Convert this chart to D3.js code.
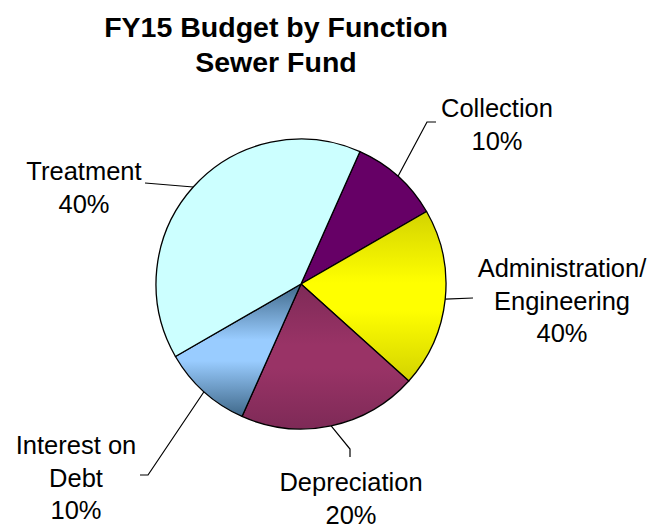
<!DOCTYPE html>
<html>
<head>
<meta charset="utf-8">
<script src="https://cdn.jsdelivr.net/npm/d3@7"></script>
<style>
  html, body { margin: 0; padding: 0; background: #fff; }
  svg { display: block; font-family: "Liberation Sans", Arial, sans-serif; }
</style>
</head>
<body>
<svg id="chart" width="649" height="527"></svg>
<script>
// Sewer fund budget split by function (slice shares, percent of total)
const categories = ["Collection", "Administration/Engineering", "Depreciation", "Interest on Debt", "Treatment"];
const shares = [10, 20, 20, 10, 40];
// Label text as printed beside each slice
const labelLines = [["Collection"], ["Administration/", "Engineering"], ["Depreciation"], ["Interest on", "Debt"], ["Treatment"]];
const labelPercents = ["10%", "40%", "20%", "10%", "40%"];
const titleLines = ["FY15 Budget by Function", "Sewer Fund"];

// Slice fills: [edge tone, centre tone] for a vertical centre-out gradient
const fills = [
  ["#660066", "#660066"],
  ["#d3d300", "#ffff00"],
  ["#7e2a57", "#993366"],
  ["#3f6889", "#99ccff"],
  ["#ccffff", "#ccffff"]
];

// Label placement: text centre x, first baseline y, and leader elbow points
const labelLayout = [
  { x: 497, y: 117, leader: [[427, 122], [436, 122]] },
  { x: 562, y: 277, leader: [[473, 298]] },
  { x: 351, y: 491, leader: [[350, 449], [350, 457]] },
  { x: 76,  y: 454, leader: [[148, 475], [140, 475]] },
  { x: 84,  y: 180, leader: [[145, 183]] }
];

const svg = d3.select("#chart");
const cx = 301, cy = 284, radius = 145;
const lineGap = 32.5;
const deg = Math.PI / 180;

const defs = svg.append("defs");
fills.forEach((f, i) => {
  const g = defs.append("linearGradient")
    .attr("id", "fill" + i)
    .attr("x1", 0).attr("y1", 0).attr("x2", 0).attr("y2", 1);
  g.append("stop").attr("offset", "0%").attr("stop-color", f[0]);
  g.append("stop").attr("offset", "42%").attr("stop-color", f[1]);
  g.append("stop").attr("offset", "58%").attr("stop-color", f[1]);
  g.append("stop").attr("offset", "100%").attr("stop-color", f[0]);
});

// Title
svg.append("g")
  .selectAll("text")
  .data(titleLines)
  .join("text")
  .attr("x", 276)
  .attr("y", (d, i) => 37 + i * 35)
  .attr("text-anchor", "middle")
  .attr("font-weight", "bold")
  .attr("font-size", 28.5)
  .attr("fill", "#000")
  .text(d => d);

const pie = d3.pie()
  .sort(null)
  .value(d => d)
  .startAngle(24 * deg)
  .endAngle(384 * deg);

const arcs = pie(shares);
const arc = d3.arc().innerRadius(0).outerRadius(radius);

const g = svg.append("g").attr("transform", `translate(${cx},${cy})`);

g.selectAll("path.slice")
  .data(arcs)
  .join("path")
  .attr("class", "slice")
  .attr("d", arc)
  .attr("fill", (d, i) => `url(#fill${i})`)
  .attr("stroke", "#000")
  .attr("stroke-width", 1.3)
  .attr("stroke-linejoin", "round");

// Leader lines from the rim at each slice's mid-angle out to its label
const leaders = svg.append("g");
arcs.forEach((a, i) => {
  const mid = (a.startAngle + a.endAngle) / 2;
  const start = [cx + radius * Math.sin(mid), cy - radius * Math.cos(mid)];
  const pts = [start].concat(labelLayout[i].leader);
  leaders.append("path")
    .attr("d", d3.line()(pts))
    .attr("fill", "none")
    .attr("stroke", "#000")
    .attr("stroke-width", 1.2);
});

// Category labels with their printed percentages
const labels = svg.append("g");
labelLines.forEach((lines, i) => {
  const lay = labelLayout[i];
  const all = lines.concat([labelPercents[i]]);
  labels.append("text")
    .attr("text-anchor", "middle")
    .attr("font-size", 25.5)
    .attr("fill", "#000")
    .selectAll("tspan")
    .data(all)
    .join("tspan")
    .attr("x", lay.x)
    .attr("y", (d, j) => lay.y + j * lineGap)
    .text(d => d);
});
</script>
</body>
</html>
